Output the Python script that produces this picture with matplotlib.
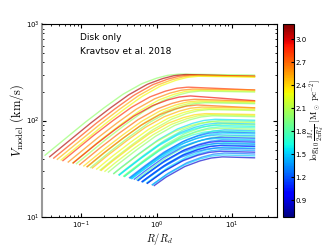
import numpy as np
import matplotlib
matplotlib.use("Agg")
import matplotlib.pyplot as plt
from matplotlib import cm, colors

plt.rcParams['mathtext.fontset'] = 'cm'

# rising part of a rotation curve:
# log10(R / R_peak) -> log10(V / V_max)
shape_u = [-2.5, -2.0, -1.75, -1.5, -1.25, -1.0, -0.75, -0.5, -0.3, -0.15, 0.0]
shape_t = [-1.30, -0.98, -0.82, -0.66, -0.50, -0.35, -0.21, -0.10, -0.042, -0.012, 0.0]

# one entry per curve, top to bottom
v_max = [303, 300, 296, 292, 288,
         222, 212, 206, 202,
         180, 166, 160, 156, 153,
         145, 138, 133, 130,
         118, 115, 112,
         103, 100, 97, 94, 92, 89, 86, 83, 80, 78, 76, 74, 71, 69, 67, 65,
         63, 61, 59, 58, 56, 55, 53, 52, 50, 48, 46, 44, 42]
# drop in dex from the peak to R/Rd = 20
v_drop = [0.01, 0.02, 0.01, 0.01, 0.01,
          0.03, 0.01, 0.01, 0.01,
          0.05, 0.02, 0.01, 0.01, 0.01,
          0.03, 0.01, 0.01, 0.01,
          0.01, 0.01, 0.01,
          0.01, 0.01, 0.01, 0.01, 0.01, 0.01, 0.01, 0.01, 0.01, 0.01, 0.01,
          0.01, 0.01, 0.01, 0.01, 0.01, 0.01, 0.01, 0.01, 0.01, 0.01, 0.01,
          0.01, 0.01, 0.01, 0.01, 0.01, 0.01, 0.01]
r_peak = [2.0, 2.4, 2.8, 3.2, 3.6,
          2.6, 3.0, 3.4, 3.8,
          2.8, 3.2, 3.6, 4.0, 4.4,
          3.5, 4.0, 4.5, 5.0,
          4.5, 5.0, 5.5,
          6.0, 7.0, 5.5, 6.5, 7.5, 6.0, 7.0, 6.5, 8.0, 6.0, 7.0, 7.5, 6.5,
          8.0, 7.0, 6.0, 7.5, 7.0, 8.0, 6.5, 7.5, 7.0, 8.0, 6.5, 7.5, 7.0,
          8.0, 7.5, 7.5]
r_start = [0.033, 0.038, 0.043, 0.048, 0.054,
           0.057, 0.067, 0.077, 0.086,
           0.078, 0.095, 0.108, 0.121, 0.133,
           0.119, 0.140, 0.160, 0.178,
           0.184, 0.206, 0.229,
           0.270, 0.315, 0.271, 0.320, 0.366, 0.321, 0.377, 0.371, 0.454,
           0.376, 0.436, 0.474, 0.447, 0.541, 0.507, 0.467, 0.575, 0.567,
           0.652, 0.569, 0.661, 0.641, 0.741, 0.647, 0.756, 0.754, 0.877,
           0.881, 0.931]
sigma = [2.0, 3.1, 2.8, 2.5, 2.3,
         2.85, 2.6, 2.3, 2.05,
         2.95, 2.7, 2.4, 2.2, 2.0,
         2.7, 2.5, 2.3, 2.1,
         2.4, 2.2, 2.0,
         1.55, 1.85, 2.1, 1.5, 1.95, 1.6, 1.75, 2.0, 1.45, 1.7, 1.25, 1.55,
         1.4, 1.8, 1.15, 1.5, 1.35, 0.95, 1.6, 1.3, 1.45, 1.0, 1.55, 1.25,
         1.4, 0.9, 1.3, 1.5, 0.85]

r_end = 20.0
c_min, c_max = 0.68, 3.2

fig = plt.figure(figsize=(3.28, 2.46), dpi=100)
ax = fig.add_axes([0.128, 0.118, 0.717, 0.784])
cax = fig.add_axes([0.863, 0.118, 0.033, 0.784])

norm = colors.Normalize(vmin=c_min, vmax=c_max)
cmap = cm.jet

for vm, dr, rp, rs, s in zip(v_max, v_drop, r_peak, r_start, sigma):
    r = np.logspace(np.log10(rs), np.log10(r_end), 100)
    u = np.log10(r / rp)
    tail = [0.0, np.log10(r_end / rp) + 0.01]
    t = np.where(u <= 0, np.interp(u, shape_u, shape_t), np.interp(u, tail, [0.0, -dr]))
    ax.plot(r, vm * 10**t, color=cmap(norm(s)), lw=1.0, alpha=0.65)

ax.set_xscale('log')
ax.set_yscale('log')
ax.set_xlim(0.03, 40)
ax.set_ylim(10, 1000)
ax.tick_params(which='both', direction='in', top=True, right=True, labelsize=5, pad=2)
ax.tick_params(which='major', length=3)
ax.tick_params(which='minor', length=1.5)
ax.spines['left'].set_color('0.6')
ax.spines['left'].set_linewidth(1.5)
ax.set_xlabel(r'$R/R_d$', fontsize=7.5, labelpad=0)
ax.set_ylabel(r'$V_{\rm model}\ ({\rm km/s})$', fontsize=9, labelpad=0)

ax.text(0.16, 0.93, 'Disk only', transform=ax.transAxes, fontsize=6.5, va='center')
ax.text(0.16, 0.86, 'Kravtsov et al. 2018', transform=ax.transAxes, fontsize=6.5, va='center')

sm = cm.ScalarMappable(norm=norm, cmap=cmap)
cb = fig.colorbar(sm, cax=cax, ticks=[0.9, 1.2, 1.5, 1.8, 2.1, 2.4, 2.7, 3.0])
cb.ax.tick_params(labelsize=5, direction='in', length=2, pad=1)
cb.set_label(r'$\log_{10}\frac{M_*}{2\pi R_d^2}\ [{\rm M_\odot\ pc^{-2}}]$', fontsize=6.5, labelpad=0)

fig.savefig('out.png', dpi=100)
